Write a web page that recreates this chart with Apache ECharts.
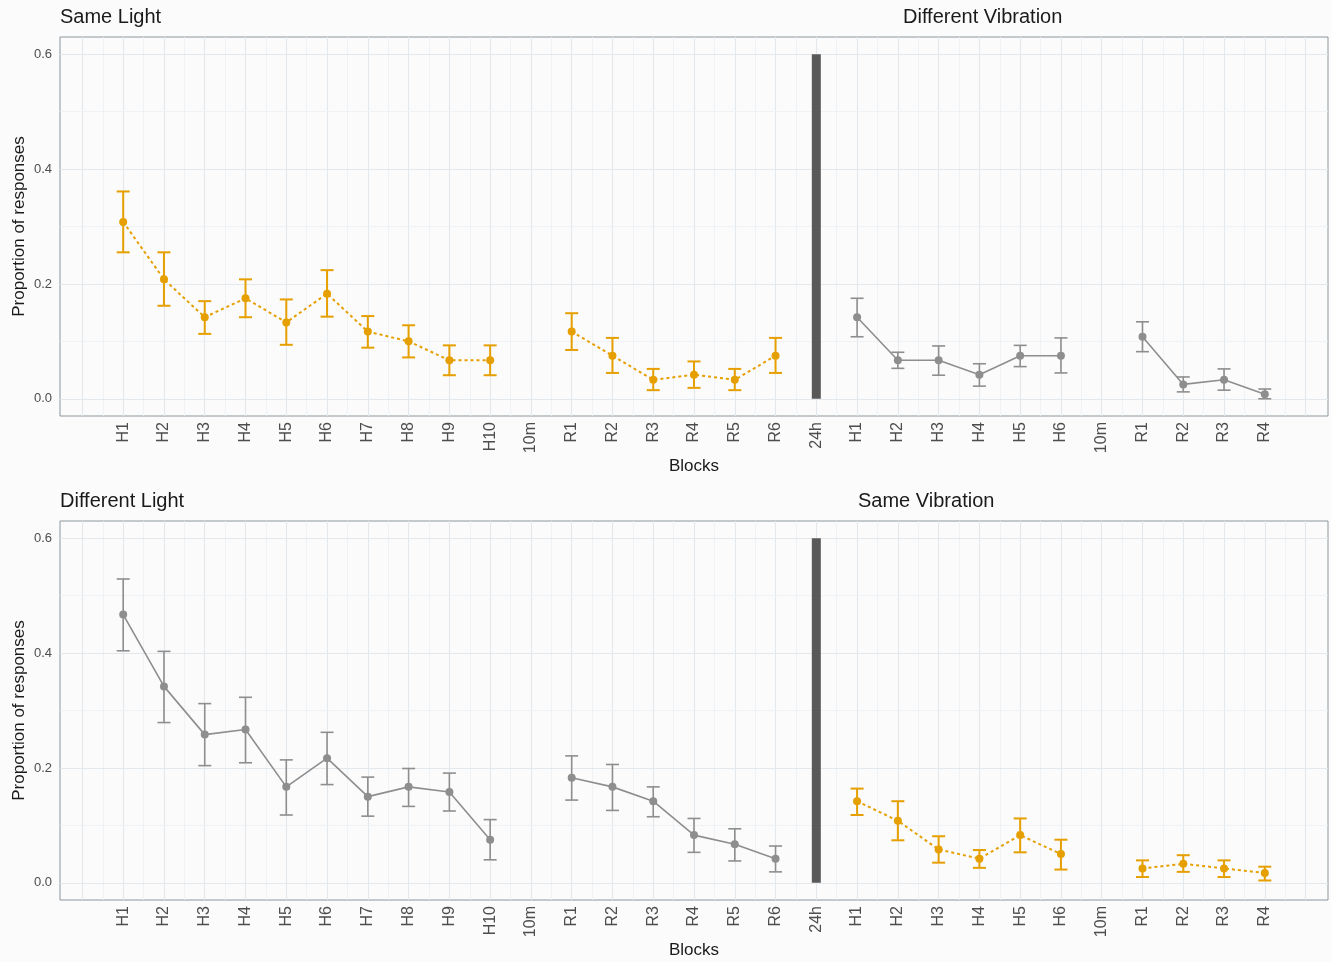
<!DOCTYPE html>
<html>
<head>
<meta charset="utf-8">
<script src="https://cdn.jsdelivr.net/npm/echarts@6/dist/echarts.min.js"></script>
<style>
html,body{margin:0;padding:0;background:#fbfbfc;}
#chart{width:1331px;height:962px;}
</style>
</head>
<body>
<div id="chart"></div>
<script>
// ---------- categories ----------
const blocks = ['H1','H2','H3','H4','H5','H6','H7','H8','H9','H10','10m',
                'R1','R2','R3','R4','R5','R6','24h',
                'H1','H2','H3','H4','H5','H6','10m','R1','R2','R3','R4'];
const yTickValues = [0, 0.2, 0.4, 0.6];
const N = null;

// light phase occupies blocks 0..16, vibration phase blocks 18..28
const lightStart = 0;
const vibStart = 18;
const breakIndex = 17;          // "24h"
const breakFrom = 0, breakTo = 0.6;

// ---------- top panel ----------
const sameLightMean = [0.308,0.208,0.142,0.175,0.133,0.183,0.117,0.100,0.067,0.067,N,0.117,0.075,0.033,0.042,0.033,0.075];
const sameLightLow  = [0.255,0.162,0.113,0.142,0.094,0.143,0.089,0.072,0.041,0.041,N,0.085,0.045,0.015,0.019,0.015,0.045];
const sameLightHigh = [0.361,0.255,0.170,0.208,0.173,0.224,0.144,0.128,0.093,0.093,N,0.149,0.106,0.052,0.065,0.052,0.106];

const diffVibMean = [0.142,0.067,0.067,0.042,0.075,0.075,N,0.108,0.025,0.033,0.008];
const diffVibLow  = [0.108,0.053,0.041,0.022,0.056,0.045,N,0.082,0.012,0.015,0.000];
const diffVibHigh = [0.175,0.081,0.092,0.061,0.093,0.106,N,0.134,0.038,0.052,0.017];

// ---------- bottom panel ----------
const diffLightMean = [0.467,0.342,0.258,0.267,0.167,0.217,0.150,0.167,0.158,0.075,N,0.183,0.167,0.142,0.083,0.067,0.042];
const diffLightLow  = [0.404,0.279,0.204,0.209,0.118,0.171,0.116,0.133,0.125,0.040,N,0.144,0.126,0.115,0.053,0.038,0.019];
const diffLightHigh = [0.529,0.403,0.312,0.323,0.214,0.262,0.184,0.199,0.191,0.110,N,0.221,0.206,0.167,0.112,0.094,0.064];

const sameVibMean = [0.142,0.108,0.058,0.042,0.083,0.050,N,0.025,0.033,0.025,0.017];
const sameVibLow  = [0.118,0.074,0.035,0.026,0.053,0.023,N,0.010,0.019,0.010,0.004];
const sameVibHigh = [0.164,0.142,0.081,0.057,0.112,0.075,N,0.039,0.048,0.039,0.028];

// ---------- styling ----------
const ORANGE = '#E69F00';
const GREY = '#8e8e8e';
const FONT = 'Liberation Sans, Arial, sans-serif';

const panels = [
  {top: 37, left: 60, width: 1268, height: 379,
   titles: [{text:'Same Light', left:60, top:7}, {text:'Different Vibration', left:903, top:7}],
   series: [
     {mean: sameLightMean, low: sameLightLow, high: sameLightHigh, start: lightStart, color: ORANGE, dotted: true},
     {mean: diffVibMean, low: diffVibLow, high: diffVibHigh, start: vibStart, color: GREY, dotted: false}
   ]},
  {top: 521, left: 60, width: 1268, height: 379,
   titles: [{text:'Different Light', left:60, top:491}, {text:'Same Vibration', left:858, top:491}],
   series: [
     {mean: diffLightMean, low: diffLightLow, high: diffLightHigh, start: lightStart, color: GREY, dotted: false},
     {mean: sameVibMean, low: sameVibLow, high: sameVibHigh, start: vibStart, color: ORANGE, dotted: true}
   ]}
];

const catIdx = blocks.map((_, i) => i);
const xMin = -1.55, xMax = blocks.length - 1 + 1.55;
const yMin = -0.03, yMax = 0.63;

const vGrid = [];
for (let v = -1; v <= blocks.length; v += 0.5) vGrid.push(v);
const hGrid = [0, 0.1, 0.2, 0.3, 0.4, 0.5, 0.6];

const MAJOR = '#e3e8ec', MINOR = '#eef1f4';

const option = {
  animation: false,
  backgroundColor: '#fbfbfc',
  textStyle: {fontFamily: FONT},
  title: [],
  grid: [],
  xAxis: [],
  yAxis: [],
  series: []
};

panels.forEach((p, g) => {
  p.titles.forEach(t => option.title.push({
    text: t.text, left: t.left, top: t.top, padding: 0,
    textStyle: {fontSize: 20, fontWeight: 'normal', color: '#1a1a1a', fontFamily: FONT}
  }));
  option.grid.push({
    left: p.left, top: p.top, width: p.width, height: p.height,
    show: true, backgroundColor: '#fbfbfc', borderColor: '#8d969b', borderWidth: 1,
    containLabel: false, outerBoundsMode: 'none'
  });
  option.xAxis.push({
    type: 'value', gridIndex: g, min: xMin, max: xMax,
    axisLine: {show: false},
    splitLine: {show: false},
    axisTick: {show: true, customValues: catIdx, length: 4, lineStyle: {color: '#333', width: 1}},
    axisLabel: {customValues: catIdx, formatter: v => blocks[Math.round(v)] || '',
                rotate: 90, fontSize: 16, color: '#4d4d4d', margin: 6, fontFamily: FONT},
    name: 'Blocks', nameLocation: 'middle', nameGap: 42, nameMoveOverlap: false,
    nameTextStyle: {fontSize: 17, color: '#1a1a1a', fontFamily: FONT}
  });
  option.yAxis.push({
    type: 'value', gridIndex: g, min: yMin, max: yMax,
    axisLine: {show: false},
    splitLine: {show: false},
    axisTick: {show: true, customValues: yTickValues, length: 3, lineStyle: {color: '#333', width: 1}},
    axisLabel: {customValues: yTickValues, formatter: v => v.toFixed(1),
                fontSize: 13, color: '#4d4d4d', margin: 8, fontFamily: FONT},
    name: 'Proportion of responses', nameLocation: 'middle', nameGap: 32, nameMoveOverlap: false,
    nameTextStyle: {fontSize: 17, color: '#1a1a1a', fontFamily: FONT}
  });

  // gridlines (styling only) via markLine on an empty helper series
  const gl = [];
  vGrid.forEach(v => gl.push({xAxis: v, lineStyle: {color: Number.isInteger(v) ? MAJOR : MINOR, width: Number.isInteger(v) ? 1.1 : 0.8, type: 'solid'}}));
  hGrid.forEach((v, i) => gl.push({yAxis: v, lineStyle: {color: i % 2 === 0 ? MAJOR : MINOR, width: i % 2 === 0 ? 1.1 : 0.8, type: 'solid'}}));
  option.series.push({
    type: 'line', xAxisIndex: g, yAxisIndex: g, data: [], z: 1, silent: true,
    markLine: {silent: true, symbol: ['none', 'none'], label: {show: false}, z: 1,
               animation: false, emphasis: {disabled: true}, data: gl}
  });

  // 24h separator bar
  option.series.push({
    type: 'line', xAxisIndex: g, yAxisIndex: g, z: 3, silent: true,
    data: [[breakIndex, breakFrom], [breakIndex, breakTo]],
    showSymbol: false, symbol: 'none',
    lineStyle: {color: '#595959', width: 9, cap: 'butt'}
  });

  p.series.forEach(s => {
    const pts = s.mean.map((v, i) => [s.start + i, v == null ? '-' : v]);
    option.series.push({
      type: 'line', xAxisIndex: g, yAxisIndex: g, z: 4, connectNulls: false,
      data: pts, symbol: 'circle', symbolSize: 8, showSymbol: true,
      itemStyle: {color: s.color},
      lineStyle: {color: s.color, width: s.dotted ? 2 : 1.6, type: s.dotted ? [3, 3] : 'solid'}
    });
    const eb = [];
    s.mean.forEach((v, i) => { if (v != null) eb.push([s.start + i, s.low[i], s.high[i]]); });
    const lw = s.dotted ? 2 : 1.6;
    option.series.push({
      type: 'custom', xAxisIndex: g, yAxisIndex: g, z: 4, silent: true,
      data: eb, encode: {x: 0, y: [1, 2]},
      renderItem: (params, api) => {
        const x = api.value(0);
        const lo = api.coord([x, api.value(1)]);
        const hi = api.coord([x, api.value(2)]);
        const hw = 6.5;
        const style = {stroke: s.color, lineWidth: lw, fill: null};
        return {type: 'group', children: [
          {type: 'line', shape: {x1: lo[0], y1: lo[1], x2: hi[0], y2: hi[1]}, style: style},
          {type: 'line', shape: {x1: lo[0] - hw, y1: lo[1], x2: lo[0] + hw, y2: lo[1]}, style: style},
          {type: 'line', shape: {x1: hi[0] - hw, y1: hi[1], x2: hi[0] + hw, y2: hi[1]}, style: style}
        ]};
      }
    });
  });
});

const chart = echarts.init(document.getElementById('chart'), null, {renderer: 'canvas'});
chart.setOption(option);
</script>
</body>
</html>
